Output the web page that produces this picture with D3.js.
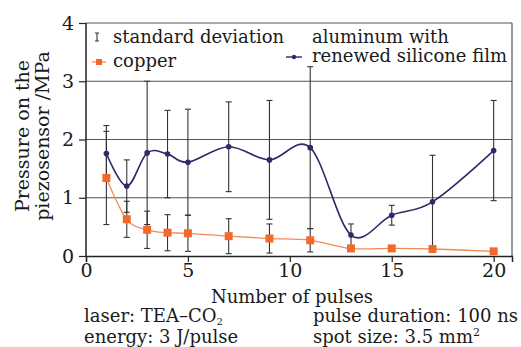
<!DOCTYPE html>
<html lang="en">
<head>
<meta charset="UTF-8">
<title>Pressure vs pulses</title>
<style>
  body { margin: 0; background: #fff; }
  svg text { font-family: "DejaVu Serif", serif; fill: #1a1a1a; }
</style>
</head>
<body>
<svg id="chart" width="521" height="347"></svg>
<script src="https://d3js.org/d3.v7.min.js"></script>
<script>
const pulses = [1, 2, 3, 4, 5, 7, 9, 11, 13, 15, 17, 20];
const aluminum = [1.76, 1.20, 1.77, 1.75, 1.61, 1.875, 1.65, 1.86, 0.36, 0.70, 0.93, 1.81];
const aluminumSd = [0.48, 0.45, 1.23, 0.75, 0.91, 0.77, 1.02, 1.39, 0.19, 0.17, 0.80, 0.86];
const copper = [1.34, 0.63, 0.45, 0.40, 0.39, 0.34, 0.30, 0.27, 0.13, 0.13, 0.12, 0.08];
const copperSd = [0.80, 0.31, 0.32, 0.31, 0.31, 0.30, 0.25, 0.20, 0.05, 0.05, 0.05, 0];
const xTicks = [0, 5, 10, 15, 20];
const yTicks = [0, 1, 2, 3, 4];

const svg = d3.select("#chart");
const margin = {top: 23, right: 9, bottom: 91, left: 86};
const width = 521 - margin.left - margin.right;
const height = 347 - margin.top - margin.bottom;
const g = svg.append("g").attr("transform", `translate(${margin.left},${margin.top})`);

const x = d3.scaleLinear().domain([0, 20.9]).range([0, width]);
const y = d3.scaleLinear().domain([0, 4]).range([height, 0]);

const navy = "#2b2a6a", orange = "#f26a2b", grey = "#333";

// grid lines + frame
g.selectAll(".grid").data([1, 2, 3, 4]).join("line")
  .attr("x1", 0).attr("x2", width)
  .attr("y1", d => y(d)).attr("y2", d => y(d))
  .attr("stroke", "#555").attr("stroke-width", 1.2);
g.append("line").attr("x1", width).attr("x2", width).attr("y1", 0).attr("y2", height)
  .attr("stroke", "#555").attr("stroke-width", 1.2);

// axes
const xAxis = g.append("g").attr("transform", `translate(0,${height})`)
  .call(d3.axisBottom(x).tickValues(xTicks).tickFormat(d3.format("d")).tickSize(6).tickPadding(2));
const yAxis = g.append("g")
  .call(d3.axisLeft(y).tickValues(yTicks).tickFormat(d3.format("d")).tickSize(7).tickPadding(5));
[xAxis, yAxis].forEach(a => {
  a.select(".domain").attr("stroke", "#222").attr("stroke-width", 1.5);
  a.selectAll(".tick line").attr("stroke", "#222").attr("stroke-width", 1.2);
  a.selectAll("text").attr("font-size", 19).attr("fill", "#1a1a1a");
});
yAxis.select(".domain").attr("d", `M0,${height}V0`);

// error bars
function errorBars(vals, sds) {
  const data = pulses.map((p, i) => ({p, v: vals[i], s: sds[i]})).filter(d => d.s > 0);
  const eg = g.append("g").attr("stroke", grey).attr("stroke-width", 1.1);
  eg.selectAll(".v").data(data).join("line")
    .attr("x1", d => x(d.p)).attr("x2", d => x(d.p))
    .attr("y1", d => y(d.v + d.s)).attr("y2", d => y(Math.max(0, d.v - d.s)));
  ["top", "bot"].forEach(k => {
    eg.selectAll("." + k).data(data).join("line")
      .attr("x1", d => x(d.p) - 3).attr("x2", d => x(d.p) + 3)
      .attr("y1", d => y(k === "top" ? d.v + d.s : Math.max(0, d.v - d.s)))
      .attr("y2", d => y(k === "top" ? d.v + d.s : Math.max(0, d.v - d.s)));
  });
}
errorBars(aluminum, aluminumSd);
errorBars(copper, copperSd);

const line = d3.line().curve(d3.curveCatmullRom.alpha(0))
  .x(d => x(d[0])).y(d => y(d[1]));

// copper
g.append("path").datum(pulses.map((p, i) => [p, copper[i]]))
  .attr("d", line).attr("fill", "none").attr("stroke", "#f58a55").attr("stroke-width", 1.3);
g.selectAll(".cu").data(pulses.map((p, i) => [p, copper[i]])).join("rect")
  .attr("x", d => x(d[0]) - 4).attr("y", d => y(d[1]) - 4)
  .attr("width", 8).attr("height", 8).attr("fill", orange);

// aluminum
g.append("path").datum(pulses.map((p, i) => [p, aluminum[i]]))
  .attr("d", line).attr("fill", "none").attr("stroke", navy).attr("stroke-width", 1.6);
g.selectAll(".al").data(pulses.map((p, i) => [p, aluminum[i]])).join("circle")
  .attr("cx", d => x(d[0])).attr("cy", d => y(d[1])).attr("r", 2.8).attr("fill", navy);

// legend
const lg = svg.append("g").attr("font-size", 18);
lg.append("line").attr("x1", 97).attr("x2", 97).attr("y1", 33).attr("y2", 41).attr("stroke", grey).attr("stroke-width", 1.1);
lg.append("line").attr("x1", 95).attr("x2", 99).attr("y1", 33).attr("y2", 33).attr("stroke", grey);
lg.append("line").attr("x1", 95).attr("x2", 99).attr("y1", 41).attr("y2", 41).attr("stroke", grey);
lg.append("text").attr("x", 113).attr("y", 43).text("standard deviation");
lg.append("line").attr("x1", 92).attr("x2", 106).attr("y1", 62).attr("y2", 62).attr("stroke", "#f58a55").attr("stroke-width", 1.3);
lg.append("rect").attr("x", 96).attr("y", 59).attr("width", 6).attr("height", 6).attr("fill", orange);
lg.append("text").attr("x", 113).attr("y", 67).text("copper");
lg.append("line").attr("x1", 286).attr("x2", 302).attr("y1", 57).attr("y2", 57).attr("stroke", navy).attr("stroke-width", 1.4);
lg.append("circle").attr("cx", 294).attr("cy", 57).attr("r", 2.2).attr("fill", navy);
lg.append("text").attr("x", 312).attr("y", 43).text("aluminum with");
lg.append("text").attr("x", 312).attr("y", 62).text("renewed silicone film");

// axis titles
svg.append("text").attr("x", 292).attr("y", 303).attr("text-anchor", "middle")
  .attr("font-size", 18).text("Number of pulses");
const yl = svg.append("g").attr("transform", "translate(0,136) rotate(-90)")
  .attr("font-size", 19).attr("text-anchor", "middle");
yl.append("text").attr("x", 0).attr("y", 29).text("Pressure on the");
yl.append("text").attr("x", 0).attr("y", 49).text("piezosensor /MPa");

// notes
const notes = svg.append("g").attr("font-size", 18);
const t1 = notes.append("text").attr("x", 84).attr("y", 322).text("laser: TEA\u2013CO");
t1.append("tspan").attr("font-size", 10).attr("dy", 3).text("2");
notes.append("text").attr("x", 84).attr("y", 343).text("energy: 3 J/pulse");
notes.append("text").attr("x", 313).attr("y", 322).text("pulse duration: 100 ns");
const t4 = notes.append("text").attr("x", 313).attr("y", 343).text("spot size: 3.5 mm");
t4.append("tspan").attr("font-size", 11).attr("dy", -7).text("2");
</script>
</body>
</html>
